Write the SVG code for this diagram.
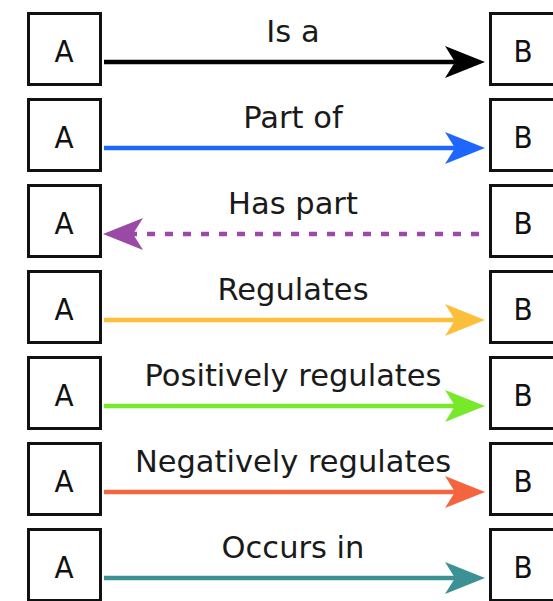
<svg xmlns="http://www.w3.org/2000/svg" width="553" height="601" viewBox="0 0 553 601">
<defs>
<style>
.box{fill:#fff;stroke:#111;stroke-width:3}
.nl{font-family:"DejaVu Sans Condensed","DejaVu Sans",sans-serif;font-size:31px;fill:#111;text-anchor:middle}
.el{font-family:"DejaVu Sans",sans-serif;font-size:30.5px;fill:#1a1a1a;text-anchor:middle}
.ln{fill:none;stroke-width:4.5}
</style>
<marker id="mBlack" viewBox="0 0 40 32" refX="10" refY="16" markerWidth="40" markerHeight="32" markerUnits="userSpaceOnUse" orient="auto"><path d="M0,0 L40,16 L0,32 L10,16 Z" fill="#000"/></marker>
<marker id="mBlue" viewBox="0 0 40 32" refX="10" refY="16" markerWidth="40" markerHeight="32" markerUnits="userSpaceOnUse" orient="auto"><path d="M0,0 L40,16 L0,32 L10,16 Z" fill="#1f66ff"/></marker>
<marker id="mPurple" viewBox="0 0 40 32" refX="10" refY="16" markerWidth="40" markerHeight="32" markerUnits="userSpaceOnUse" orient="auto"><path d="M0,0 L40,16 L0,32 L10,16 Z" fill="#9a4aa6"/></marker>
<marker id="mYellow" viewBox="0 0 40 32" refX="10" refY="16" markerWidth="40" markerHeight="32" markerUnits="userSpaceOnUse" orient="auto"><path d="M0,0 L40,16 L0,32 L10,16 Z" fill="#fcbf3c"/></marker>
<marker id="mGreen" viewBox="0 0 40 32" refX="10" refY="16" markerWidth="40" markerHeight="32" markerUnits="userSpaceOnUse" orient="auto"><path d="M0,0 L40,16 L0,32 L10,16 Z" fill="#78e82a"/></marker>
<marker id="mRed" viewBox="0 0 40 32" refX="10" refY="16" markerWidth="40" markerHeight="32" markerUnits="userSpaceOnUse" orient="auto"><path d="M0,0 L40,16 L0,32 L10,16 Z" fill="#f4643e"/></marker>
<marker id="mTeal" viewBox="0 0 40 32" refX="10" refY="16" markerWidth="40" markerHeight="32" markerUnits="userSpaceOnUse" orient="auto"><path d="M0,0 L40,16 L0,32 L10,16 Z" fill="#3b9194"/></marker>
</defs>
<rect width="553" height="601" fill="#fff"/>
<g id="nodes">
<g id="a1"><rect class="box" x="28.5" y="13.5" width="72" height="71"/><text class="nl" x="64" y="62">A</text></g>
<g id="b1"><rect class="box" x="490.5" y="13.5" width="72" height="71"/><text class="nl" x="523" y="62">B</text></g>
<g id="a2"><rect class="box" x="28.5" y="99.5" width="72" height="71"/><text class="nl" x="64" y="148">A</text></g>
<g id="b2"><rect class="box" x="490.5" y="99.5" width="72" height="71"/><text class="nl" x="523" y="148">B</text></g>
<g id="a3"><rect class="box" x="28.5" y="185.5" width="72" height="71"/><text class="nl" x="64" y="234">A</text></g>
<g id="b3"><rect class="box" x="490.5" y="185.5" width="72" height="71"/><text class="nl" x="523" y="234">B</text></g>
<g id="a4"><rect class="box" x="28.5" y="271.5" width="72" height="71"/><text class="nl" x="64" y="320">A</text></g>
<g id="b4"><rect class="box" x="490.5" y="271.5" width="72" height="71"/><text class="nl" x="523" y="320">B</text></g>
<g id="a5"><rect class="box" x="28.5" y="357.5" width="72" height="71"/><text class="nl" x="64" y="406">A</text></g>
<g id="b5"><rect class="box" x="490.5" y="357.5" width="72" height="71"/><text class="nl" x="523" y="406">B</text></g>
<g id="a6"><rect class="box" x="28.5" y="443.5" width="72" height="71"/><text class="nl" x="64" y="492">A</text></g>
<g id="b6"><rect class="box" x="490.5" y="443.5" width="72" height="71"/><text class="nl" x="523" y="492">B</text></g>
<g id="a7"><rect class="box" x="28.5" y="529.5" width="72" height="71"/><text class="nl" x="64" y="578">A</text></g>
<g id="b7"><rect class="box" x="490.5" y="529.5" width="72" height="71"/><text class="nl" x="523" y="578">B</text></g>
</g>
<g id="connectors">
<line class="ln" x1="104" y1="62" x2="455" y2="62" stroke="#000" stroke-width="5" marker-end="url(#mBlack)"/>
<text class="el" x="293" y="42">Is a</text>
<line class="ln" x1="104" y1="148" x2="455" y2="148" stroke="#1f66ff" marker-end="url(#mBlue)"/>
<text class="el" x="293" y="128">Part of</text>
<line class="ln" x1="479" y1="234" x2="133" y2="234" stroke="#9a4aa6" stroke-width="5" stroke-dasharray="8 10" marker-end="url(#mPurple)"/>
<text class="el" x="293" y="214">Has part</text>
<line class="ln" x1="104" y1="320" x2="455" y2="320" stroke="#fcbf3c" marker-end="url(#mYellow)"/>
<text class="el" x="293" y="300">Regulates</text>
<line class="ln" x1="104" y1="406" x2="455" y2="406" stroke="#78e82a" marker-end="url(#mGreen)"/>
<text class="el" x="293" y="386">Positively regulates</text>
<line class="ln" x1="104" y1="492" x2="455" y2="492" stroke="#f4643e" marker-end="url(#mRed)"/>
<text class="el" x="293" y="472">Negatively regulates</text>
<line class="ln" x1="104" y1="578" x2="455" y2="578" stroke="#3b9194" marker-end="url(#mTeal)"/>
<text class="el" x="293" y="558">Occurs in</text>
</g>
</svg>
